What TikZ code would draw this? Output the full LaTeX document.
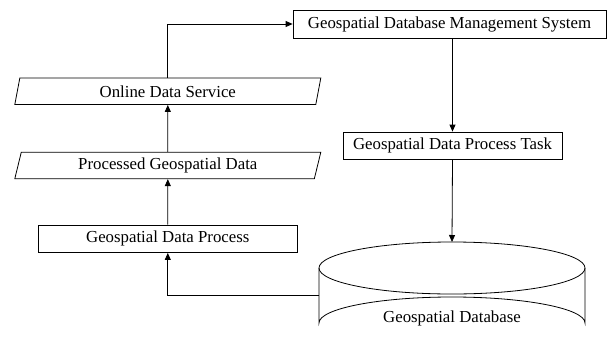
\documentclass[tikz,border=0pt]{standalone}
\usepackage{fontspec}
\setmainfont{Liberation Serif}
\usetikzlibrary{arrows.meta,shapes.geometric}
\begin{document}
\begin{tikzpicture}[x=1pt,y=-1pt,
  every node/.style={font=\fontsize{16.8}{19}\selectfont},
  box/.style={draw, line width=0.8pt, rectangle, inner sep=0pt},
  para/.style={draw, line width=0.8pt, trapezium, trapezium left angle=67, trapezium right angle=113,
    trapezium stretches body, inner sep=0pt, minimum width=306pt, minimum height=26.5pt},
  conn/.style={line width=0.8pt},
  arr/.style={conn, -{Triangle[length=7pt,width=6pt]}}]
\useasboundingbox (0,0) rectangle (612,340);
\clip (0,0) rectangle (612,340);
\node[box, minimum width=313pt, minimum height=28pt] (dbms) at (449.5,24) {Geospatial Database Management System};
\node[box, minimum width=219pt, minimum height=27pt] (task) at (452.5,145.5) {Geospatial Data Process Task};
\node[para] (ods) at (167.8,91.3) {Online Data Service};
\node[para] (pgd) at (167.8,165.5) {Processed Geospatial Data};
\node[box, minimum width=259pt, minimum height=27.5pt] (gdp) at (167.8,238.8) {Geospatial Data Process};
% cylinder
\coordinate (dbtop) at (452,242);
\coordinate (dbside) at (319,295);
\draw[conn] (452,268) ellipse [x radius=133, y radius=26];
\draw[conn] (319,268) -- (319,323) arc[start angle=180, end angle=360, x radius=133, y radius=26] -- (585,268);
\node (db) at (452,318) {Geospatial Database};
% connectors
\draw[arr] (ods.north) |- (dbms.west);
\draw[arr] (dbms.south -| task.north) -- (task.north);
\draw[arr] (task.south) -- (dbtop);
\draw[arr] (pgd.north) -- (ods.south);
\draw[arr] (gdp.north) -- (pgd.south);
\draw[arr] (dbside) -| (gdp.south);
\end{tikzpicture}
\end{document}
